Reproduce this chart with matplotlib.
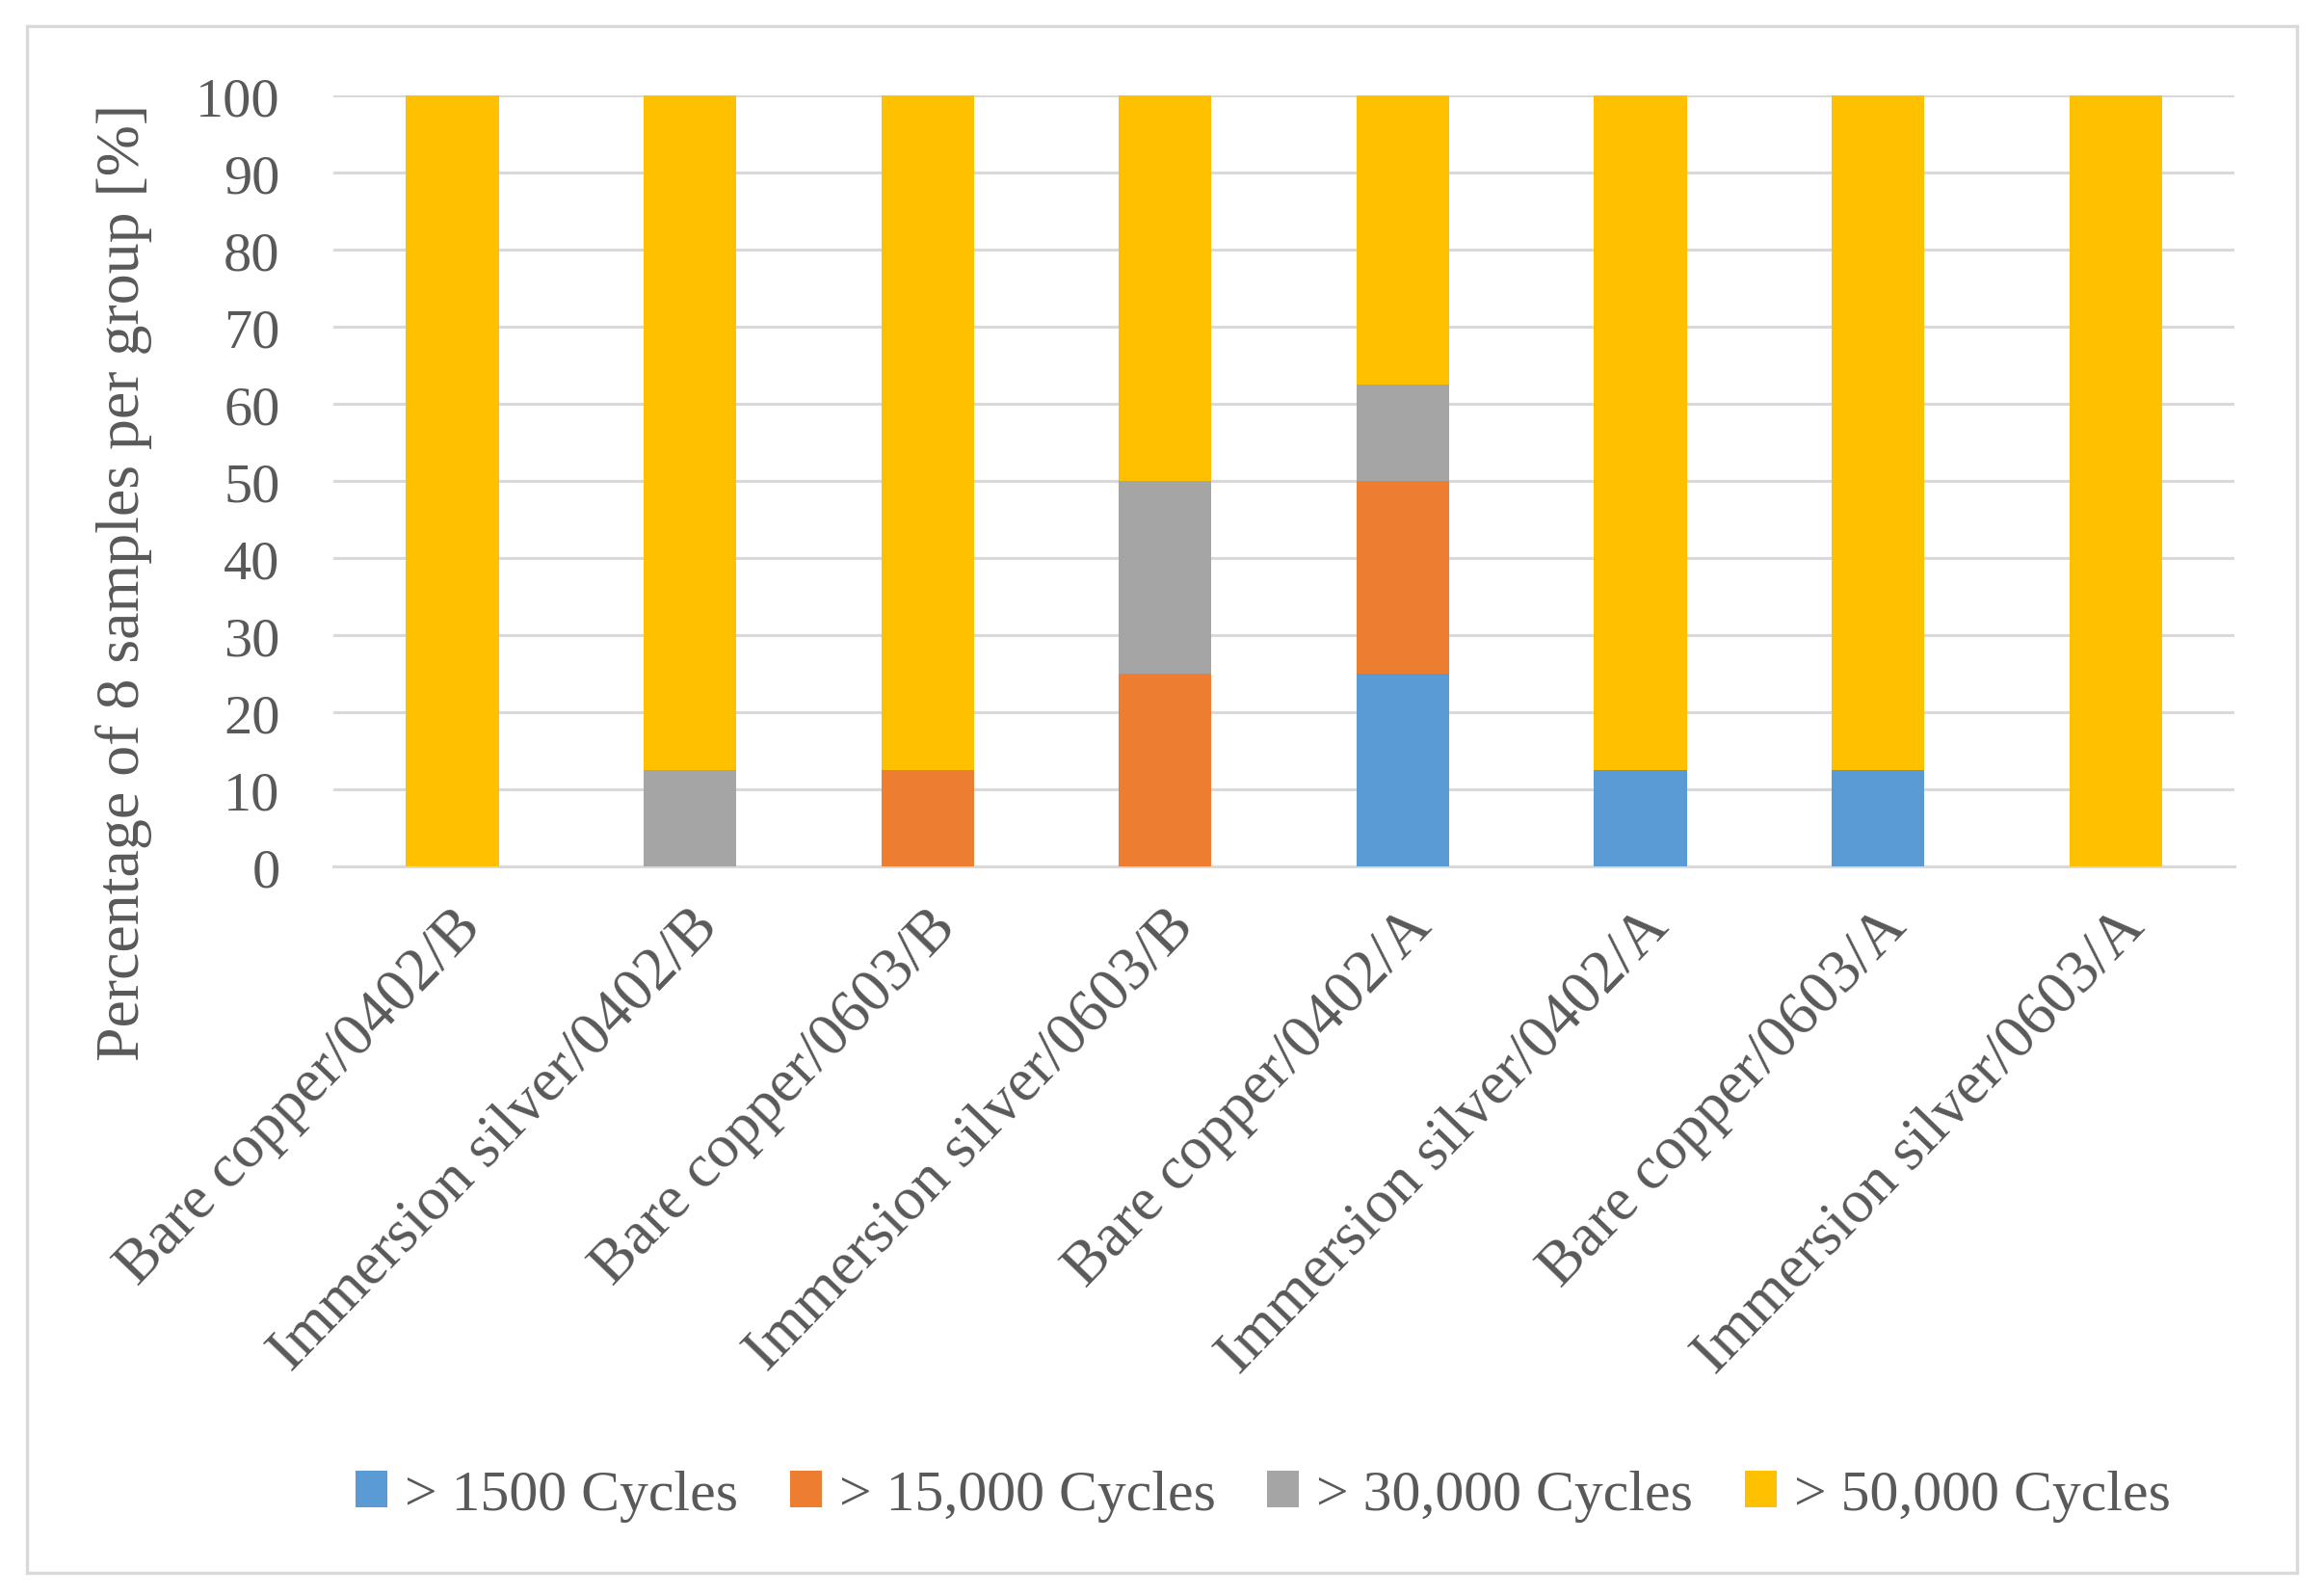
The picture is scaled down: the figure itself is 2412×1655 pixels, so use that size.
import matplotlib
matplotlib.use("Agg")
import matplotlib.pyplot as plt
import numpy as np
from matplotlib.patches import Rectangle

categories = ["Bare copper/0402/B", "Immersion silver/0402/B", "Bare copper/0603/B",
              "Immersion silver/0603/B", "Bare copper/0402/A", "Immersion silver/0402/A",
              "Bare copper/0603/A", "Immersion silver/0603/A"]
series_names = ["> 1500 Cycles", "> 15,000 Cycles", "> 30,000 Cycles", "> 50,000 Cycles"]
s1500 = [0, 0, 0, 0, 25, 12.5, 12.5, 0]
s15000 = [0, 0, 12.5, 25, 25, 0, 0, 0]
s30000 = [0, 12.5, 0, 25, 12.5, 0, 0, 0]
s50000 = [100, 87.5, 87.5, 50, 37.5, 87.5, 87.5, 100]
yticks = [0, 10, 20, 30, 40, 50, 60, 70, 80, 90, 100]
colors = ["#5B9BD5", "#ED7D31", "#A5A5A5", "#FFC000"]

plt.rcParams['font.family'] = ['Liberation Serif', 'DejaVu Serif']
txt = "#595959"

fig = plt.figure(figsize=(12.06, 8.28), dpi=200)
ax = fig.add_axes([0.1435, 0.4565, 0.818, 0.4831])

x = np.arange(len(categories))
bottom = np.zeros(len(categories))
for name, vals, c in zip(series_names, [s1500, s15000, s30000, s50000], colors):
    ax.bar(x, vals, width=0.39, bottom=bottom, color=c, label=name, zorder=3)
    bottom += np.array(vals)

ax.set_xlim(-0.5, len(categories) - 0.5)
ax.set_ylim(0, 100)
ax.set_yticks(yticks)
ax.set_yticklabels([str(v) for v in yticks], fontsize=21, color=txt)
ax.set_xticks(x)
ax.set_xticklabels(categories, rotation=46, ha='right', va='top', rotation_mode='anchor',
                   fontsize=23, color=txt)
ax.tick_params(axis='both', length=0)
ax.tick_params(axis='y', pad=20)
ax.tick_params(axis='x', pad=12)
ax.grid(axis='y', color='#D9D9D9', linewidth=1.1, zorder=0)
for s in ['top', 'right', 'left']:
    ax.spines[s].set_visible(False)
ax.spines['bottom'].set_color('#D9D9D9')
ax.spines['bottom'].set_linewidth(1.1)
ax.set_ylabel("Percentage of 8 samples per group [%]", fontsize=23, color=txt, labelpad=16)
ax.yaxis.label.set_y(0.37)

leg = fig.legend(loc='center', bbox_to_anchor=(0.5435, 0.062), ncol=4, frameon=False,
                 fontsize=21.5, handlelength=0.55, handleheight=0.6, handletextpad=0.3,
                 columnspacing=0.9, labelcolor=txt)

fig.patches.append(Rectangle((28 / 2412, 1 - 1633 / 1656), (2384 - 28) / 2412, (1633 - 28) / 1656,
                             transform=fig.transFigure, fill=False, edgecolor='#D9D9D9',
                             linewidth=1.2))

fig.savefig("out.png", dpi=200, facecolor='white')
